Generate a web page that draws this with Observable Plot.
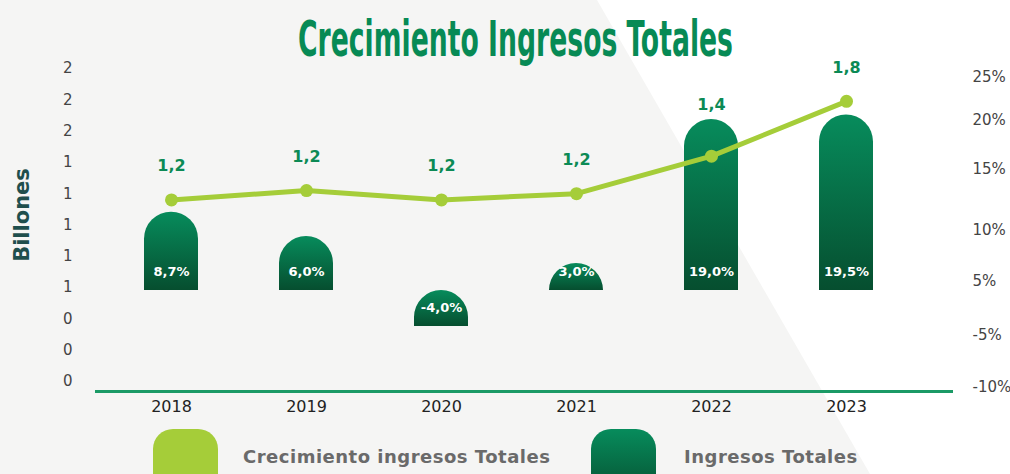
<!DOCTYPE html>
<html>
<head>
<meta charset="utf-8">
<script src="https://cdn.jsdelivr.net/npm/d3@7"></script>
<script src="https://cdn.jsdelivr.net/npm/@observablehq/plot@0.6"></script>
<style>
  html, body { margin: 0; padding: 0; }
  body { width: 1010px; height: 474px; overflow: hidden; font-family: "DejaVu Sans", sans-serif; }
  #wrap { position: relative; width: 1010px; height: 474px; overflow: hidden; background: #f5f5f4; }
  #bgwhite { position: absolute; inset: 0; background: #ffffff;
    clip-path: polygon(597px 0, 1010px 0, 1010px 474px, 870px 474px); }
  #title { position: absolute; left: 298px; top: 15px; margin: 0; white-space: nowrap;
    font: bold 49px/1 "Liberation Sans Narrow", "DejaVu Sans Condensed", sans-serif; color: #078a55;
    transform-origin: 0 50%; }
  #chart { position: absolute; left: 0; top: 58px; }
  #ylabel { position: absolute; left: 22px; top: 215px; transform: translate(-50%, -50%) rotate(-90deg);
    font: bold 21px "DejaVu Sans", sans-serif; color: #1f4f4d; white-space: nowrap; }
  .sw { position: absolute; top: 429px; width: 65px; height: 70px; border-radius: 20px 20px 0 0; }
  .lt { position: absolute; top: 446px; font: bold 18px "DejaVu Sans", sans-serif; letter-spacing: 0.5px;
    color: #6a6a6a; white-space: nowrap; }
</style>
</head>
<body>
<div id="wrap">
  <div id="bgwhite"></div>
  <div id="title">Crecimiento Ingresos Totales</div>
  <div id="ylabel">Billones</div>
  <div id="chart"></div>
  <div class="sw" style="left:153px;background:#a5cd39"></div>
  <div class="lt" style="left:243px">Crecimiento ingresos Totales</div>
  <div class="sw" style="left:591px;background:linear-gradient(#078c5c,#064e2f)"></div>
  <div class="lt" style="left:684px">Ingresos Totales</div>
</div>
<script>
// ---- data ----
const years = ["2018", "2019", "2020", "2021", "2022", "2023"];
const ingresos = [1.16, 1.22, 1.16, 1.20, 1.44, 1.79];      // billones (line)
const crecimiento = [8.7, 6.0, -4.0, 3.0, 19.0, 19.5];      // % (bars)
const leftTicks = [0, 0.2, 0.4, 0.6, 0.8, 1, 1.2, 1.4, 1.6, 1.8, 2];
const rightTickLabels = ["25%", "20%", "15%", "10%", "5%", "-5%", "-10%"];
const rightTickPos = [1.944, 1.668, 1.355, 0.965, 0.639, 0.294, -0.038]; // in billones units, as placed in the picture

// ---- dual axis: percent -> billones units ----
const yMin = -0.064, yMax = 2;
const pctToV = p => 0.5815 + 0.05751 * p;

const data = years.map((year, i) => ({
  year,
  ingresos: ingresos[i],
  pct: crecimiento[i],
  lo: pctToV(Math.min(0, crecimiento[i])),
  hi: pctToV(Math.max(0, crecimiento[i]))
}));
data.forEach(d => {
  d.labelV = Math.max(d.ingresos + 0.217, d.hi + 0.096);
});

const comma = (v, n) => v.toFixed(n).replace(".", ",");
const rightMap = new Map(rightTickPos.map((v, i) => [v, rightTickLabels[i]]));

const chart = Plot.plot({
  width: 1010,
  height: 365,
  marginTop: 10,
  marginBottom: 32,
  marginLeft: 102,
  marginRight: 95,
  style: { background: "transparent", fontFamily: "DejaVu Sans, sans-serif", overflow: "visible" },
  x: { domain: years, paddingInner: 0.6, paddingOuter: 0.3, axis: null },
  y: { domain: [yMin, yMax], axis: null },
  marks: [
    Plot.axisY(leftTicks, { anchor: "left", tickSize: 0, tickPadding: 30, tickFormat: d3.format(".0f"),
      fontSize: 15, color: "#444", label: null }),
    Plot.axisY(rightTickPos, { anchor: "right", tickSize: 0, tickPadding: 57, tickFormat: d => rightMap.get(d),
      fontSize: 15, color: "#444", label: null }),
    Plot.axisX({ tickSize: 0, tickPadding: 9, fontSize: 16, color: "#222", label: null }),
    Plot.ruleY([yMin], { stroke: "#1b9a66", strokeWidth: 3, insetLeft: -7, insetRight: -38 }),
    Plot.barY(data, { x: "year", y1: "lo", y2: "hi", fill: "url(#barGrad)", ry1: 27 }),
    Plot.text(data, { x: "year", y: "lo", dy: -19, text: d => comma(d.pct, 1) + "%",
      fill: "white", fontWeight: "bold", fontSize: 13 }),
    Plot.line(data, { x: "year", y: "ingresos", stroke: "#a5cd39", strokeWidth: 5 }),
    Plot.dot(data, { x: "year", y: "ingresos", r: 6.5, fill: "#a5cd39" }),
    Plot.text(data, { x: "year", y: "labelV", text: d => comma(d.ingresos, 1),
      fill: "#0c8a55", fontWeight: "bold", fontSize: 16 })
  ]
});

const defs = d3.select(chart).insert("defs", ":first-child");
const g = defs.append("linearGradient").attr("id", "barGrad")
  .attr("x1", 0).attr("y1", 0).attr("x2", 0).attr("y2", 1);
g.append("stop").attr("offset", "0%").attr("stop-color", "#078c5c");
g.append("stop").attr("offset", "100%").attr("stop-color", "#064e2f");

document.getElementById("chart").appendChild(chart);

// squeeze the title to the reference's width (435px)
const title = document.getElementById("title");
const natural = title.getBoundingClientRect().width;
title.style.transform = `scaleX(${435 / natural})`;
</script>
</body>
</html>
